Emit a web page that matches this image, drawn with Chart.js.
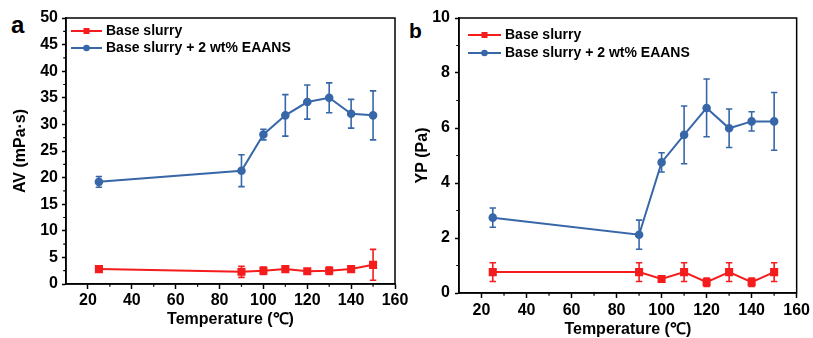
<!DOCTYPE html>
<html>
<head>
<meta charset="utf-8">
<script src="https://cdn.jsdelivr.net/npm/chart.js@4/dist/chart.umd.min.js"></script>
<style>
  html, body { margin: 0; padding: 0; background: #fff; }
  body { width: 813px; height: 338px; position: relative; overflow: hidden; font-family: "Liberation Sans", Arial, sans-serif; }
  .wrap { position: absolute; top: 0; height: 338px; }
  .letter { position: absolute; font-weight: bold; line-height: 1; color: #000; }
</style>
</head>
<body>
<div class="letter" style="left:11px;top:12.7px;font-size:24px;">a</div>
<div class="letter" style="left:409px;top:20px;font-size:21px;">b</div>
<div class="wrap" style="left:0;width:410px;"><canvas id="ca" width="410" height="338"></canvas></div>
<div class="wrap" style="left:410px;width:403px;"><canvas id="cb" width="403" height="338"></canvas></div>
<script>
// ---- data ----
const temps = [25, 90, 100, 110, 120, 130, 140, 150];
const seriesNames = ['Base slurry', 'Base slurry + 2 wt% EAANS'];

const avBase      = [2.8, 2.3, 2.5, 2.8, 2.4, 2.5, 2.8, 3.6];
const avBaseErr   = [0.3, 1.05, 0.7, 0.3, 0.3, 0.7, 0.3, 2.9];
const avEaans     = [19.2, 21.3, 28.1, 31.7, 34.2, 35.0, 32.0, 31.7];
const avEaansErr  = [1.0, 3.0, 1.0, 3.9, 3.2, 2.8, 2.7, 4.6];

const ypBase      = [0.76, 0.76, 0.51, 0.76, 0.39, 0.76, 0.39, 0.76];
const ypBaseErr   = [0.34, 0.34, 0.05, 0.34, 0.15, 0.34, 0.15, 0.34];
const ypEaans     = [2.74, 2.12, 4.75, 5.75, 6.73, 5.99, 6.24, 6.24];
const ypEaansErr  = [0.35, 0.53, 0.35, 1.05, 1.05, 0.7, 0.35, 1.05];

const xMajorTicks = [20, 40, 60, 80, 100, 120, 140, 160];
const xMinorTicks = [30, 50, 70, 90, 110, 130, 150];
const avMinorTicks = [2.5, 7.5, 12.5, 17.5, 22.5, 27.5, 32.5, 37.5, 42.5, 47.5];
const ypMinorTicks = [1, 3, 5, 7, 9];

// ---- styles ----
const RED = '#f41c1c';
const BLUE = '#3767a8';
const FONT = '"Liberation Sans", Arial, sans-serif';

const pts = (ys) => temps.map((t, i) => ({ x: t, y: ys[i] }));

function makeDatasets(base, baseErr, ea, eaErr) {
  return [
    { label: seriesNames[0], data: pts(base), errs: baseErr, borderColor: RED, backgroundColor: RED,
      pointStyle: 'rect', pointRadius: 4.3, pointHoverRadius: 4.3, borderWidth: 2, tension: 0 },
    { label: seriesNames[1], data: pts(ea), errs: eaErr, borderColor: BLUE, backgroundColor: BLUE,
      pointStyle: 'circle', pointRadius: 3.3, pointHoverRadius: 3.3, borderWidth: 2, tension: 0 }
  ];
}

const errorBars = {
  id: 'errorBars',
  beforeDatasetsDraw(chart) {
    const { ctx, scales: { x, y } } = chart;
    ctx.save();
    chart.data.datasets.forEach(ds => {
      ctx.strokeStyle = ds.borderColor;
      ctx.lineWidth = 1.6;
      ds.data.forEach((p, i) => {
        const e = ds.errs[i];
        const px = x.getPixelForValue(p.x);
        const yt = y.getPixelForValue(p.y + e);
        const yb = y.getPixelForValue(p.y - e);
        ctx.beginPath();
        ctx.moveTo(px, yt); ctx.lineTo(px, yb);
        ctx.moveTo(px - 3.2, yt); ctx.lineTo(px + 3.2, yt);
        ctx.moveTo(px - 3.2, yb); ctx.lineTo(px + 3.2, yb);
        ctx.stroke();
      });
    });
    ctx.restore();
  }
};

const frame = {
  id: 'frame',
  afterDraw(chart, args, opts) {
    const { ctx, chartArea: a, scales: { x, y } } = chart;
    ctx.save();
    ctx.strokeStyle = '#000';
    ctx.lineWidth = 1.5;
    ctx.strokeRect(a.left, a.top, a.right - a.left, a.bottom - a.top);
    // minor ticks
    ctx.lineWidth = 1.2;
    ctx.beginPath();
    opts.xMinor.forEach(v => {
      const px = x.getPixelForValue(v);
      ctx.moveTo(px, a.bottom); ctx.lineTo(px, a.bottom + 2.8);
    });
    opts.yMinor.forEach(v => {
      const py = y.getPixelForValue(v);
      ctx.moveTo(a.left, py); ctx.lineTo(a.left - 2.8, py);
    });
    ctx.stroke();
    ctx.restore();
  }
};

const insideLegend = {
  id: 'insideLegend',
  afterDraw(chart, args, opts) {
    const { ctx, chartArea: a } = chart;
    ctx.save();
    ctx.font = 'bold 14px ' + FONT;
    ctx.textBaseline = 'middle';
    ctx.fillStyle = '#000';
    chart.data.datasets.forEach((ds, i) => {
      const yy = a.top + opts.rows[i];
      const x0 = a.left + opts.lineStart, x1 = a.left + opts.lineEnd;
      ctx.strokeStyle = ds.borderColor;
      ctx.lineWidth = 2;
      ctx.beginPath(); ctx.moveTo(x0, yy); ctx.lineTo(x1, yy); ctx.stroke();
      ctx.fillStyle = ds.backgroundColor;
      const cx = (x0 + x1) / 2;
      if (ds.pointStyle === 'rect') {
        ctx.fillRect(cx - 3, yy - 3, 6, 6);
      } else {
        ctx.beginPath(); ctx.arc(cx, yy, 3.3, 0, Math.PI * 2); ctx.fill();
      }
      ctx.fillStyle = '#000';
      ctx.fillText(ds.label, a.left + opts.textStart, yy + 0.5);
    });
    ctx.restore();
  }
};

function makeChart(id, cfg) {
  const tickFont = { family: FONT, size: 16, weight: 'bold' };
  const titleFont = { family: FONT, size: 16, weight: 'bold', lineHeight: 1 };
  return new Chart(document.getElementById(id), {
    type: 'line',
    data: { datasets: cfg.datasets },
    plugins: [errorBars, frame, insideLegend],
    options: {
      responsive: false,
      animation: false,
      events: [],
      layout: { padding: { left: 0, top: 18, right: cfg.padRight, bottom: 0 } },
      plugins: {
        legend: { display: false },
        tooltip: { enabled: false },
        frame: { xMinor: xMinorTicks, yMinor: cfg.yMinor },
        insideLegend: cfg.legend
      },
      scales: {
        x: {
          type: 'linear', min: 10, max: 160,
          afterBuildTicks: s => { s.ticks = xMajorTicks.map(v => ({ value: v })); },
          afterFit: s => { s.height = cfg.xHeight; },
          ticks: { font: tickFont, color: '#000', padding: cfg.xTickPad, maxRotation: 0, autoSkip: false },
          grid: { drawOnChartArea: false, tickLength: 5, tickColor: '#000', tickWidth: 1.5 },
          border: { color: '#000', width: 1.5 },
          title: { display: true, text: 'Temperature (℃)', font: titleFont, color: '#000',
                   padding: { top: 0, bottom: cfg.xTitlePad } }
        },
        y: {
          type: 'linear', min: 0, max: cfg.yMax,
          afterBuildTicks: s => { s.ticks = cfg.yTicks.map(v => ({ value: v })); },
          afterFit: s => { s.width = cfg.yWidth; },
          ticks: { font: tickFont, color: '#000', padding: cfg.yTickPad, autoSkip: false },
          grid: { drawOnChartArea: false, tickLength: 4, tickColor: '#000', tickWidth: 1.5 },
          border: { color: '#000', width: 1.5 },
          title: { display: true, text: cfg.yTitle, font: titleFont, color: '#000',
                   padding: { top: cfg.yTitlePad, bottom: 0 } }
        }
      }
    }
  });
}

const avTicks = [0, 5, 10, 15, 20, 25, 30, 35, 40, 45, 50];
const ypTicks = [0, 2, 4, 6, 8, 10];

makeChart('ca', {
  datasets: makeDatasets(avBase, avBaseErr, avEaans, avEaansErr),
  yMax: 50, yTicks: avTicks, yMinor: avMinorTicks, yTitle: 'AV (mPa·s)',
  padRight: 15, xHeight: 54, yWidth: 66, xTickPad: 1.5, yTickPad: 4,
  xTitlePad: 10.5, yTitlePad: 13,
  legend: { rows: [13, 30], lineStart: 5, lineEnd: 36, textStart: 40 }
});

makeChart('cb', {
  datasets: makeDatasets(ypBase, ypBaseErr, ypEaans, ypEaansErr),
  yMax: 10, yTicks: ypTicks, yMinor: ypMinorTicks, yTitle: 'YP (Pa)',
  padRight: 15, xHeight: 45, yWidth: 49, xTickPad: 3, yTickPad: 5,
  xTitlePad: 0, yTitlePad: 4.5,
  legend: { rows: [17, 35], lineStart: 9, lineEnd: 42, textStart: 46 }
});
</script>
</body>
</html>
